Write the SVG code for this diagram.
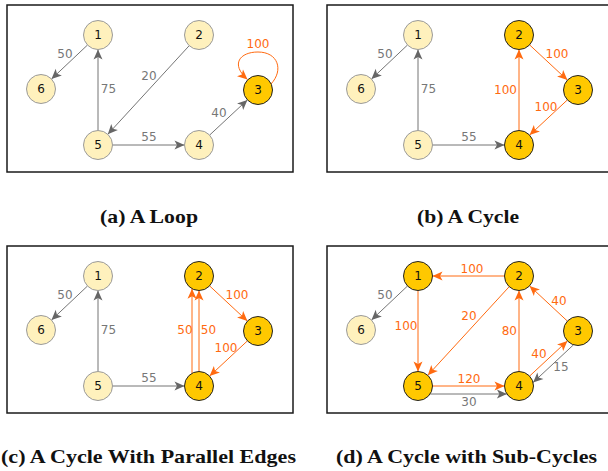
<svg xmlns="http://www.w3.org/2000/svg" width="608" height="471" viewBox="0 0 608 471">
<style>
.box{fill:#fff;stroke:#1a1a1a;stroke-width:1.5}
.n{stroke-width:1}
.pale{fill:#fff1bd;stroke:#9a9a9a}
.gold{fill:#ffc800;stroke:#222}
.nl{font-family:"DejaVu Sans",sans-serif;font-size:12px;fill:#111;text-anchor:middle}
.g{stroke:#757575;stroke-width:1;fill:none;marker-end:url(#ag)}
.o{stroke:#ff6a10;stroke-width:1;fill:none;marker-end:url(#ao)}
.el{font-family:"DejaVu Sans",sans-serif;font-size:12px;text-anchor:middle}
.elg{fill:#777}
.elo{fill:#ff6a10}
.cap{font-family:"Liberation Serif",serif;font-weight:bold;font-size:19px;fill:#111}
</style>
<defs>
<marker id="ag" viewBox="-11 -6 12 12" markerWidth="12" markerHeight="12" refX="0" refY="0" markerUnits="userSpaceOnUse" orient="auto"><path d="M0,0 L-10,-4.5 L-7.5,0 L-10,4.5 Z" fill="#666"/></marker>
<marker id="ao" viewBox="-11 -6 12 12" markerWidth="12" markerHeight="12" refX="0" refY="0" markerUnits="userSpaceOnUse" orient="auto"><path d="M0,0 L-10,-4.5 L-7.5,0 L-10,4.5 Z" fill="#ff6a10"/></marker>
</defs>

<!-- Panel (a) -->
<g id="panel-a">
<rect class="box" x="7" y="5" width="286" height="167"/>
<g id="a-edges">
<line class="g" x1="87.5" y1="45" x2="51.5" y2="79"/>
<line class="g" x1="98" y1="130.5" x2="98" y2="49.5"/>
<line class="g" x1="189.2" y1="45.7" x2="107.8" y2="134.3"/>
<line class="g" x1="112.5" y1="145" x2="184.5" y2="145"/>
<line class="g" x1="209.6" y1="135.1" x2="247.4" y2="99.9"/>
<path class="o" d="M271,84 C284,70 278,52 258,52 C240,52 230,64 247.5,79.5"/>
<text class="el elg" x="65" y="58">50</text>
<text class="el elg" x="108.5" y="93">75</text>
<text class="el elg" x="149" y="80">20</text>
<text class="el elg" x="149" y="141">55</text>
<text class="el elg" x="219" y="117">40</text>
<text class="el elo" x="258" y="48">100</text>
</g>
<g id="a-n1"><circle class="n pale" cx="98" cy="35" r="14.5"/><text class="nl" x="98" y="39">1</text></g>
<g id="a-n2"><circle class="n pale" cx="199" cy="35" r="14.5"/><text class="nl" x="199" y="39">2</text></g>
<g id="a-n3"><circle class="n gold" cx="258" cy="90" r="14.5"/><text class="nl" x="258" y="94">3</text></g>
<g id="a-n4"><circle class="n pale" cx="199" cy="145" r="14.5"/><text class="nl" x="199" y="149">4</text></g>
<g id="a-n5"><circle class="n pale" cx="98" cy="145" r="14.5"/><text class="nl" x="98" y="149">5</text></g>
<g id="a-n6"><circle class="n pale" cx="41" cy="89" r="14.5"/><text class="nl" x="41" y="93">6</text></g>
<text class="cap" x="100" y="223" textLength="98" lengthAdjust="spacingAndGlyphs">(a) A Loop</text>
</g>

<!-- Panel (b) -->
<g id="panel-b">
<rect class="box" x="327" y="5" width="286" height="167"/>
<g id="b-edges">
<line class="g" x1="407.5" y1="45" x2="371.5" y2="79"/>
<line class="g" x1="418" y1="130.5" x2="418" y2="49.5"/>
<line class="g" x1="432.5" y1="145" x2="504.5" y2="145"/>
<line class="o" x1="519" y1="130.5" x2="519" y2="49.5"/>
<line class="o" x1="529.6" y1="44.9" x2="567.4" y2="80.1"/>
<line class="o" x1="567.4" y1="99.9" x2="529.6" y2="135.1"/>
<text class="el elg" x="385" y="58">50</text>
<text class="el elg" x="428.5" y="93">75</text>
<text class="el elg" x="469" y="141">55</text>
<text class="el elo" x="517" y="94" style="text-anchor:end">100</text>
<text class="el elo" x="557" y="58">100</text>
<text class="el elo" x="546" y="111">100</text>
</g>
<g id="b-n1"><circle class="n pale" cx="418" cy="35" r="14.5"/><text class="nl" x="418" y="39">1</text></g>
<g id="b-n2"><circle class="n gold" cx="519" cy="35" r="14.5"/><text class="nl" x="519" y="39">2</text></g>
<g id="b-n3"><circle class="n gold" cx="578" cy="90" r="14.5"/><text class="nl" x="578" y="94">3</text></g>
<g id="b-n4"><circle class="n gold" cx="519" cy="145" r="14.5"/><text class="nl" x="519" y="149">4</text></g>
<g id="b-n5"><circle class="n pale" cx="418" cy="145" r="14.5"/><text class="nl" x="418" y="149">5</text></g>
<g id="b-n6"><circle class="n pale" cx="361" cy="89" r="14.5"/><text class="nl" x="361" y="93">6</text></g>
<text class="cap" x="417" y="223" textLength="102" lengthAdjust="spacingAndGlyphs">(b) A Cycle</text>
</g>

<!-- Panel (c) -->
<g id="panel-c">
<rect class="box" x="7" y="246" width="286" height="167"/>
<g id="c-edges">
<line class="g" x1="87.5" y1="286" x2="51.5" y2="320"/>
<line class="g" x1="98" y1="371.5" x2="98" y2="290.5"/>
<line class="g" x1="112.5" y1="386" x2="184.5" y2="386"/>
<line class="o" x1="209.6" y1="285.9" x2="247.4" y2="321.1"/>
<line class="o" x1="247.4" y1="340.9" x2="209.6" y2="376.1"/>
<line class="o" x1="192" y1="373.3" x2="192" y2="288.7"/>
<line class="o" x1="199" y1="371.5" x2="199" y2="290.5"/>
<text class="el elg" x="65" y="299">50</text>
<text class="el elg" x="108.5" y="334">75</text>
<text class="el elg" x="149" y="382">55</text>
<text class="el elo" x="237" y="299">100</text>
<text class="el elo" x="226" y="352">100</text>
<text class="el elo" x="185" y="334">50</text>
<text class="el elo" x="208.5" y="334">50</text>
</g>
<g id="c-n1"><circle class="n pale" cx="98" cy="276" r="14.5"/><text class="nl" x="98" y="280">1</text></g>
<g id="c-n2"><circle class="n gold" cx="199" cy="276" r="14.5"/><text class="nl" x="199" y="280">2</text></g>
<g id="c-n3"><circle class="n gold" cx="258" cy="331" r="14.5"/><text class="nl" x="258" y="335">3</text></g>
<g id="c-n4"><circle class="n gold" cx="199" cy="386" r="14.5"/><text class="nl" x="199" y="390">4</text></g>
<g id="c-n5"><circle class="n pale" cx="98" cy="386" r="14.5"/><text class="nl" x="98" y="390">5</text></g>
<g id="c-n6"><circle class="n pale" cx="41" cy="330" r="14.5"/><text class="nl" x="41" y="334">6</text></g>
<text class="cap" x="1" y="463" textLength="295" lengthAdjust="spacingAndGlyphs">(c) A Cycle With Parallel Edges</text>
</g>

<!-- Panel (d) -->
<g id="panel-d">
<rect class="box" x="327" y="246" width="286" height="167"/>
<g id="d-edges">
<line class="g" x1="407.5" y1="286" x2="371.5" y2="320"/>
<line class="o" x1="504.5" y1="276" x2="432.5" y2="276"/>
<line class="o" x1="418" y1="290.5" x2="418" y2="371.5"/>
<line class="o" x1="509.2" y1="286.7" x2="427.8" y2="375.3"/>
<line class="o" x1="519" y1="371.5" x2="519" y2="290.5"/>
<line class="o" x1="567.4" y1="321.1" x2="529.6" y2="285.9"/>
<line class="o" x1="529.6" y1="376.1" x2="567.4" y2="340.9"/>
<line class="g" x1="573.5" y1="344.8" x2="533.1" y2="382.5"/>
<line class="o" x1="432.5" y1="386" x2="504.5" y2="386"/>
<line class="g" x1="430.1" y1="394" x2="506.9" y2="394"/>
<text class="el elg" x="385" y="299">50</text>
<text class="el elo" x="472" y="273">100</text>
<text class="el elo" x="406" y="330">100</text>
<text class="el elo" x="469" y="320">20</text>
<text class="el elo" x="517" y="335" style="text-anchor:end">80</text>
<text class="el elo" x="559" y="305">40</text>
<text class="el elo" x="539" y="358">40</text>
<text class="el elg" x="561" y="371">15</text>
<text class="el elo" x="469" y="383">120</text>
<text class="el elg" x="469" y="406">30</text>
</g>
<g id="d-n1"><circle class="n gold" cx="418" cy="276" r="14.5"/><text class="nl" x="418" y="280">1</text></g>
<g id="d-n2"><circle class="n gold" cx="519" cy="276" r="14.5"/><text class="nl" x="519" y="280">2</text></g>
<g id="d-n3"><circle class="n gold" cx="578" cy="331" r="14.5"/><text class="nl" x="578" y="335">3</text></g>
<g id="d-n4"><circle class="n gold" cx="519" cy="386" r="14.5"/><text class="nl" x="519" y="390">4</text></g>
<g id="d-n5"><circle class="n gold" cx="418" cy="386" r="14.5"/><text class="nl" x="418" y="390">5</text></g>
<g id="d-n6"><circle class="n pale" cx="361" cy="330" r="14.5"/><text class="nl" x="361" y="334">6</text></g>
<text class="cap" x="336" y="463" textLength="261" lengthAdjust="spacingAndGlyphs">(d) A Cycle with Sub-Cycles</text>
</g>
</svg>
